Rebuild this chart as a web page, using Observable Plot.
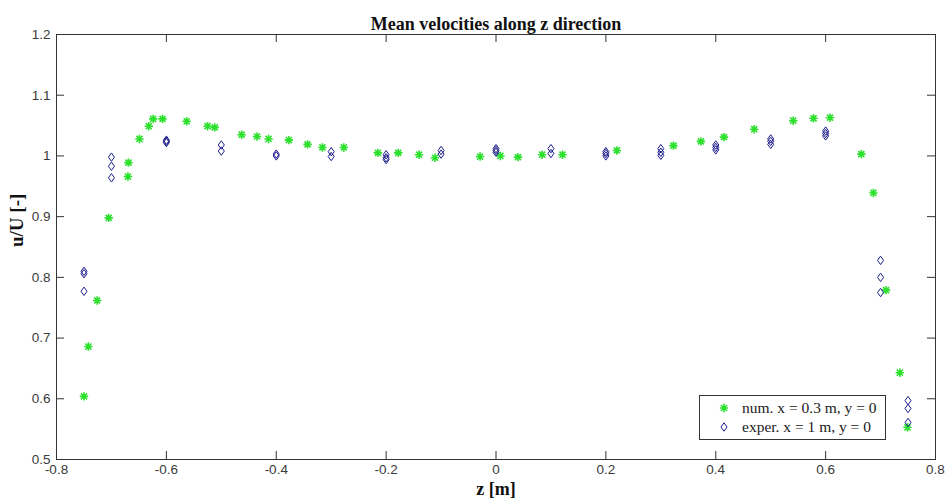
<!DOCTYPE html>
<html>
<head>
<meta charset="utf-8">
<script src="https://cdn.jsdelivr.net/npm/d3@7"></script>
<script src="https://cdn.jsdelivr.net/npm/@observablehq/plot@0.6"></script>
<style>
  html, body { margin: 0; padding: 0; background: #fff; }
  #wrap { position: relative; width: 946px; height: 502px; overflow: hidden; }
  #legend { position: absolute; left: 699px; top: 395px; width: 187px; height: 45px;
    box-sizing: border-box; border: 1px solid #333; background: #fff; }
  #legend .row { position: absolute; left: 0; height: 18px; }
  #legend svg { position: absolute; left: 17px; top: 0; }
  #legend span { position: absolute; left: 42px; top: 0; line-height: 18px; white-space: nowrap;
    font-family: "Liberation Serif", serif; font-size: 15.5px; color: #222; }
</style>
</head>
<body>
<div id="wrap"></div>
<script>
// ---- data ----
const numZ = [-0.750, -0.742, -0.726, -0.705, -0.670, -0.669, -0.649, -0.632, -0.624, -0.607,
  -0.563, -0.525, -0.512, -0.463, -0.435, -0.414, -0.377, -0.343, -0.316, -0.277,
  -0.215, -0.178, -0.140, -0.111, -0.029, 0.008, 0.040, 0.084, 0.121, 0.220,
  0.323, 0.373, 0.415, 0.470, 0.541, 0.578, 0.608, 0.665, 0.687, 0.710, 0.735, 0.749];
const numU = [0.604, 0.686, 0.762, 0.898, 0.966, 0.989, 1.028, 1.049, 1.061, 1.061,
  1.057, 1.049, 1.047, 1.035, 1.032, 1.028, 1.026, 1.019, 1.014, 1.014,
  1.005, 1.005, 1.002, 0.997, 0.999, 1.000, 0.998, 1.002, 1.002, 1.009,
  1.017, 1.024, 1.031, 1.044, 1.058, 1.062, 1.063, 1.003, 0.939, 0.779, 0.643, 0.553];

const expZ = [-0.75, -0.75, -0.75, -0.70, -0.70, -0.70, -0.60, -0.60, -0.60, -0.50, -0.50,
  -0.40, -0.40, -0.30, -0.30, -0.20, -0.20, -0.20, -0.10, -0.10, 0.00, 0.00, 0.00,
  0.10, 0.10, 0.20, 0.20, 0.20, 0.30, 0.30, 0.30, 0.40, 0.40, 0.40, 0.50, 0.50, 0.50,
  0.60, 0.60, 0.60, 0.70, 0.70, 0.70, 0.75, 0.75, 0.75];
const expU = [0.810, 0.806, 0.777, 0.998, 0.983, 0.964, 1.026, 1.024, 1.022, 1.018, 1.008,
  1.003, 1.000, 1.007, 0.999, 1.002, 0.994, 0.997, 1.009, 1.003, 1.012, 1.006, 1.009,
  1.012, 1.004, 1.007, 1.000, 1.004, 1.012, 1.001, 1.006, 1.018, 1.010, 1.014, 1.028, 1.019, 1.024,
  1.041, 1.033, 1.037, 0.828, 0.800, 0.775, 0.597, 0.584, 0.561];

const xTicks = [-0.8, -0.6, -0.4, -0.2, 0, 0.2, 0.4, 0.6, 0.8];
const yTicks = [0.5, 0.6, 0.7, 0.8, 0.9, 1.0, 1.1, 1.2];

const titleText = "Mean velocities along z direction";
const xLabel = "z [m]";
const yLabel = "u/U [-]";
const legendLabels = ["num. x = 0.3 m, y = 0", "exper. x = 1 m, y = 0"];

// ---- styles ----
const green = "#2de02d";
const navy = "#1c1c8c";
const W = 946, H = 502, mT = 34, mR = 11, mB = 43, mL = 56;
const fw = W - mL - mR, fh = H - mT - mB, tick = 8;

const asterisk = {
  draw(ctx, size) {
    const r = Math.sqrt(size / Math.PI), d = r * 0.72;
    ctx.moveTo(-r, 0); ctx.lineTo(r, 0);
    ctx.moveTo(0, -r); ctx.lineTo(0, r);
    ctx.moveTo(-d, -d); ctx.lineTo(d, d);
    ctx.moveTo(-d, d); ctx.lineTo(d, -d);
  }
};
const diamond = {
  draw(ctx, size) {
    const r = Math.sqrt(size / Math.PI), w = r * 0.72;
    ctx.moveTo(0, -r); ctx.lineTo(w, 0); ctx.lineTo(0, r); ctx.lineTo(-w, 0); ctx.closePath();
  }
};

const fmt = d => String(+(+d).toFixed(1));
const numData = numZ.map((z, i) => ({z, u: numU[i]}));
const expData = expZ.map((z, i) => ({z, u: expU[i]}));

const chart = Plot.plot({
  width: W, height: H,
  marginTop: mT, marginRight: mR, marginBottom: mB, marginLeft: mL,
  x: {domain: [-0.8, 0.8]},
  y: {domain: [0.5, 1.2]},
  style: {background: "#fff", overflow: "visible"},
  marks: [
    Plot.ruleX(xTicks, {x: d => d, insetTop: fh - tick, stroke: "#333"}),
    Plot.ruleX(xTicks, {x: d => d, insetBottom: fh - tick, stroke: "#333"}),
    Plot.ruleY(yTicks, {y: d => d, insetRight: fw - tick, stroke: "#333"}),
    Plot.ruleY(yTicks, {y: d => d, insetLeft: fw - tick, stroke: "#333"}),
    Plot.frame({stroke: "#333", strokeWidth: 1}),
    Plot.axisX(xTicks, {tickSize: 0, tickPadding: 5, tickFormat: fmt, label: null,
      fontSize: 13.5, fontFamily: "Liberation Sans, sans-serif", fill: "#3a3a3a"}),
    Plot.axisY(yTicks, {tickSize: 0, tickPadding: 6, tickFormat: fmt, label: null,
      fontSize: 13.5, fontFamily: "Liberation Sans, sans-serif", fill: "#3a3a3a"}),
    Plot.dot(numData, {x: "z", y: "u", symbol: asterisk, r: 4.2, stroke: green,
      strokeWidth: 1.6, fill: "none"}),
    Plot.dot(expData, {x: "z", y: "u", symbol: diamond, r: 4.2, stroke: navy,
      strokeWidth: 1, fill: "none"}),
    Plot.text([titleText], {text: d => d, frameAnchor: "top", dy: -17, fontSize: 18,
      fontWeight: "bold", fontFamily: "Liberation Serif, serif", fill: "#111"}),
    Plot.text([xLabel], {text: d => d, frameAnchor: "bottom", dy: 35, fontSize: 18,
      fontWeight: "bold", fontFamily: "Liberation Serif, serif", fill: "#111"}),
    Plot.text([yLabel], {text: d => d, frameAnchor: "left", dx: -40, rotate: -90, fontSize: 19,
      fontWeight: "bold", fontFamily: "Liberation Serif, serif", fill: "#111"})
  ]
});

const wrap = document.getElementById("wrap");
wrap.appendChild(chart);

// legend
const legend = document.createElement("div");
legend.id = "legend";
[[asterisk, green, 1.6, 4.2], [diamond, navy, 1, 4.2]].forEach(([sym, col, sw, r], i) => {
  const row = document.createElement("div");
  row.className = "row";
  row.style.top = (3 + i * 19) + "px";
  row.style.width = "100%";
  const svg = d3.create("svg").attr("width", 14).attr("height", 18);
  svg.append("path")
    .attr("transform", "translate(7,9)")
    .attr("d", d3.symbol(sym, r * r * Math.PI)())
    .attr("fill", "none").attr("stroke", col).attr("stroke-width", sw);
  row.appendChild(svg.node());
  const s = document.createElement("span");
  s.textContent = legendLabels[i];
  row.appendChild(s);
  legend.appendChild(row);
});
wrap.appendChild(legend);
</script>
</body>
</html>
